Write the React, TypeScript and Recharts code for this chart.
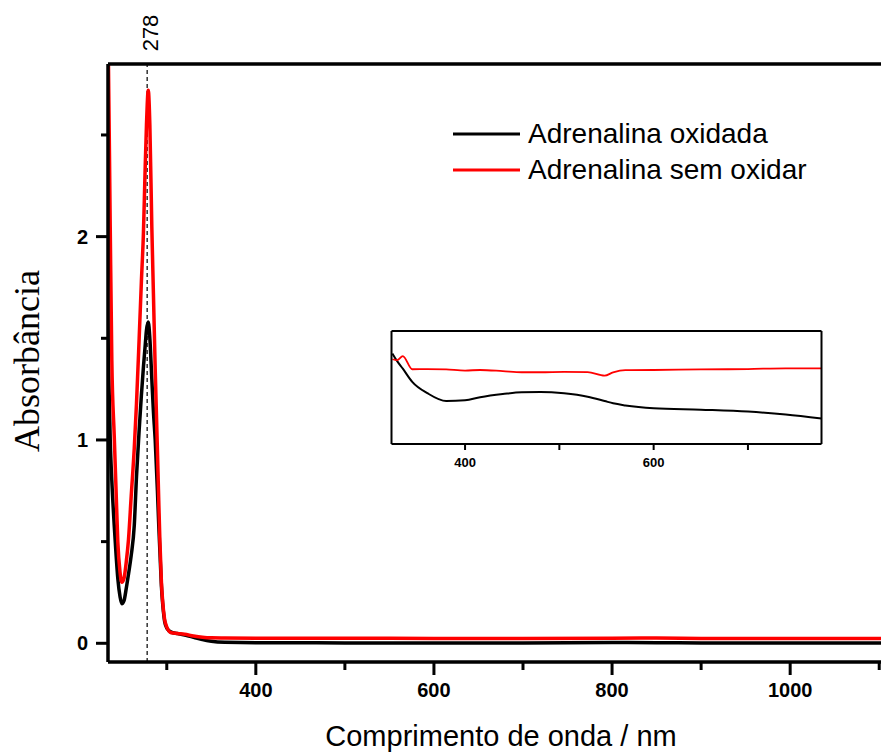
import { LineChart, Line, XAxis, YAxis, ReferenceLine, Legend } from 'recharts'

// main spectrum (nm vs absorbance)
const wavelengths = [
  233, 234.5, 236.5, 238.3, 241, 243, 245, 247.5, 249.5, 252, 254.5, 257, 260, 263.5, 266, 269, 271.5,
  273.8, 275.5, 277.2, 279.2, 281, 283.2, 285, 287, 289.5, 291, 292.3, 294, 295.5, 297.5, 300, 305, 312,
  320, 330, 340, 350, 365, 400, 450, 500, 600, 700, 800, 850, 900, 1000, 1050, 1102,
]
const oxidada = [
  1.8, 1.39, 1.0, 0.8, 0.58, 0.44, 0.32, 0.23, 0.195, 0.21, 0.27, 0.34, 0.43, 0.58, 0.82, 1.05, 1.22,
  1.36, 1.45, 1.54, 1.58, 1.5, 1.3, 1.14, 1.0, 0.75, 0.58, 0.45, 0.28, 0.19, 0.11, 0.075, 0.055, 0.048,
  0.04, 0.03, 0.018, 0.01, 0.005, 0.003, 0.003, 0.002, 0.002, 0.002, 0.004, 0.003, 0.002, 0.001, 0.001, 0.001,
]
const semOxidar = [
  3.2, 2.85, 2.05, 1.39, 1.02, 0.76, 0.5, 0.35, 0.3, 0.32, 0.4, 0.51, 0.72, 0.96, 1.18, 1.5, 1.78,
  2.02, 2.3, 2.55, 2.72, 2.55, 2.05, 1.72, 1.35, 0.95, 0.7, 0.5, 0.3, 0.2, 0.12, 0.08, 0.052, 0.048,
  0.044, 0.036, 0.03, 0.027, 0.026, 0.025, 0.025, 0.025, 0.024, 0.024, 0.025, 0.026, 0.024, 0.023, 0.024, 0.023,
]
const xTicks = [300, 400, 500, 600, 700, 800, 900, 1000, 1100]
const xLabels = [400, 600, 800, 1000]
const yTicks = [0, 0.5, 1, 1.5, 2, 2.5]
const yLabels = [0, 1, 2]
const peakMarker = 278

// inset (zoom of the visible region)
const insetWavelengths = [323, 328, 334, 344, 360, 380, 400, 416, 440, 460, 480, 505, 530, 548, 557, 570, 600, 650, 700, 740, 778]
const insetOxidada = [
  0.048, 0.044, 0.04, 0.033, 0.027, 0.0228, 0.0232, 0.0248, 0.0265, 0.0275, 0.0276, 0.0269, 0.0251,
  0.0228, 0.0216, 0.0205, 0.019, 0.0182, 0.0172, 0.0157, 0.0136,
]
const insetSemOxidar = [
  0.045, 0.0445, 0.0467, 0.0397, 0.0398, 0.0396, 0.039, 0.0393, 0.0387, 0.0381, 0.0381, 0.0383, 0.0382,
  0.0363, 0.038, 0.0392, 0.0393, 0.0396, 0.0398, 0.0402, 0.0402,
]
const insetTicks = [400, 500, 600, 700]
const insetLabels = [400, 600]

const data = wavelengths.map((w, i) => ({ w, oxidada: oxidada[i], semOxidar: semOxidar[i] }))
const insetData = insetWavelengths.map((w, i) => ({ w, oxidada: insetOxidada[i], semOxidar: insetSemOxidar[i] }))

const sans = "'Liberation Sans', Arial, sans-serif"
const serif = "'Liberation Serif', 'Times New Roman', serif"

function XTick({ x, y, payload }: any) {
  const major = xLabels.includes(payload.value)
  return (
    <g>
      <line x1={x} x2={x} y1={y} y2={y + (major ? 13 : 8)} stroke="#000" strokeWidth={3} />
      {major && (
        <text x={x} y={y + 35} textAnchor="middle" fontFamily={sans} fontWeight="bold" fontSize={20} fill="#000">
          {payload.value}
        </text>
      )}
    </g>
  )
}

function YTick({ x, y, payload }: any) {
  const major = yLabels.includes(payload.value)
  return (
    <g>
      <line x1={x - (major ? 12 : 7)} x2={x} y1={y} y2={y} stroke="#000" strokeWidth={3} />
      {major && (
        <text x={x - 20} y={y + 7} textAnchor="end" fontFamily={sans} fontWeight="bold" fontSize={20} fill="#000">
          {payload.value}
        </text>
      )}
    </g>
  )
}

function InsetTick({ x, y, payload }: any) {
  const major = insetLabels.includes(payload.value)
  return (
    <g>
      <line x1={x} x2={x} y1={y} y2={y + 6} stroke="#000" strokeWidth={2} />
      {major && (
        <text x={x} y={y + 23} textAnchor="middle" fontFamily={sans} fontWeight="bold" fontSize={13} fill="#000">
          {payload.value}
        </text>
      )}
    </g>
  )
}

function LegendContent({ payload }: any) {
  return (
    <div>
      {(payload || []).map((e: any) => (
        <div key={e.value} style={{ display: 'flex', alignItems: 'center', height: 36 }}>
          <svg width={67} height={6}>
            <line x1={0} x2={67} y1={3} y2={3} stroke={e.color} strokeWidth={3} />
          </svg>
          <span style={{ marginLeft: 8, fontFamily: sans, fontSize: 28, color: '#000', whiteSpace: 'nowrap' }}>{e.value}</span>
        </div>
      ))}
    </div>
  )
}

export default function App() {
  return (
    <div style={{ position: 'absolute', left: 0, top: 0, width: 881, height: 754, background: '#fff' }}>
      <LineChart width={881} height={754} data={data} margin={{ top: 63, right: 0, bottom: 91, left: 0 }}>
        <XAxis
          dataKey="w"
          type="number"
          domain={[234, 1102]}
          allowDataOverflow
          ticks={xTicks}
          interval={0}
          height={1}
          tickSize={0}
          tickMargin={0}
          tick={<XTick />}
          axisLine={{ stroke: '#000', strokeWidth: 3.5 }}
          tickLine={false}
          label={() => (
            <text x={501} y={746} textAnchor="middle" fontFamily={sans} fontSize={29} fill="#000">
              Comprimento de onda / nm
            </text>
          )}
        />
        <XAxis
          xAxisId="top"
          orientation="top"
          dataKey="w"
          type="number"
          domain={[234, 1102]}
          allowDataOverflow
          height={1}
          tick={false}
          tickLine={false}
          axisLine={{ stroke: '#000', strokeWidth: 3.5 }}
        />
        <YAxis
          type="number"
          domain={[-0.092, 2.849]}
          allowDataOverflow
          ticks={yTicks}
          interval={0}
          width={108}
          tickSize={0}
          tickMargin={0}
          tick={<YTick />}
          axisLine={{ stroke: '#000', strokeWidth: 3.5 }}
          tickLine={false}
          label={() => (
            <text
              transform="translate(39, 361) rotate(-90)"
              textAnchor="middle"
              fontFamily={serif}
              fontSize={36}
              fill="#000"
            >
              Absorbância
            </text>
          )}
        />
        <ReferenceLine
          x={peakMarker}
          stroke="#333"
          strokeWidth={1.5}
          strokeDasharray="4 3"
          label={(props: any) => (
            <text
              transform={`translate(${props.viewBox.x + 11}, 33) rotate(-90)`}
              textAnchor="middle"
              fontFamily={sans}
              fontSize={22}
              fill="#000"
            >
              {peakMarker}
            </text>
          )}
        />
        <Line
          dataKey="oxidada"
          name="Adrenalina oxidada"
          type="monotone"
          stroke="#000"
          strokeWidth={3.5}
          dot={false}
          isAnimationActive={false}
        />
        <Line
          dataKey="semOxidar"
          name="Adrenalina sem oxidar"
          type="monotone"
          stroke="#ff0000"
          strokeWidth={3.5}
          dot={false}
          isAnimationActive={false}
        />
        <Legend
          layout="vertical"
          align="center"
          verticalAlign="middle"
          content={<LegendContent />}
          wrapperStyle={{ position: 'absolute', left: 453, top: 116, width: 400, height: 80 }}
        />
      </LineChart>

      <div style={{ position: 'absolute', left: 380, top: 320 }}>
        <LineChart width={460} height={170} data={insetData} margin={{ top: 10, right: 17.5, bottom: 45, left: 0 }}>
          <XAxis
            dataKey="w"
            type="number"
            domain={[322, 778]}
            allowDataOverflow
            ticks={insetTicks}
            interval={0}
            height={1}
            tickSize={0}
            tickMargin={0}
            tick={<InsetTick />}
            tickLine={false}
            axisLine={{ stroke: '#000', strokeWidth: 2 }}
          />
          <XAxis
            xAxisId="top"
            orientation="top"
            dataKey="w"
            type="number"
            domain={[322, 778]}
            height={1}
            tick={false}
            tickLine={false}
            axisLine={{ stroke: '#000', strokeWidth: 2 }}
          />
          <YAxis
            type="number"
            domain={[0, 0.06]}
            allowDataOverflow
            width={11.5}
            tick={false}
            tickLine={false}
            axisLine={{ stroke: '#000', strokeWidth: 2 }}
          />
          <YAxis
            yAxisId="right"
            orientation="right"
            type="number"
            domain={[0, 0.06]}
            width={1}
            tick={false}
            tickLine={false}
            axisLine={{ stroke: '#000', strokeWidth: 2 }}
          />
          <Line dataKey="oxidada" type="monotone" stroke="#000" strokeWidth={2} dot={false} isAnimationActive={false} />
          <Line dataKey="semOxidar" type="monotone" stroke="#ff0000" strokeWidth={1.8} dot={false} isAnimationActive={false} />
        </LineChart>
      </div>
    </div>
  )
}
